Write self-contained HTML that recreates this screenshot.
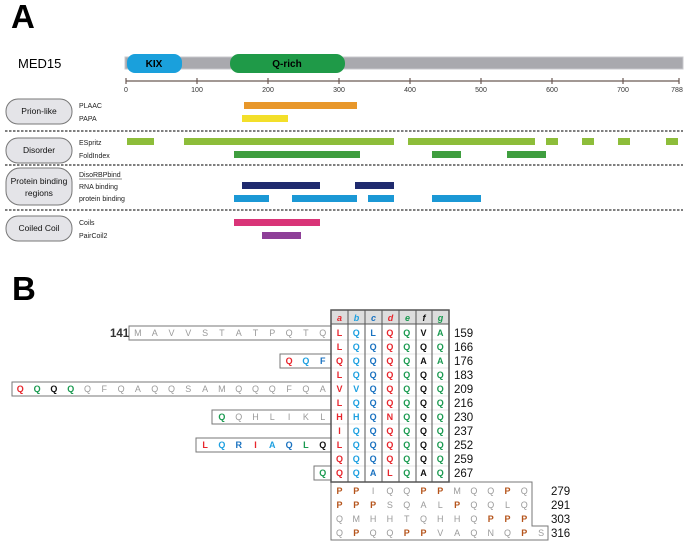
<!DOCTYPE html>
<html><head><meta charset="utf-8"><style>
html,body{margin:0;padding:0;background:#fff;}
svg{display:block;font-family:"Liberation Sans",Arial,sans-serif;}
</style></head><body>
<svg width="685" height="545" viewBox="0 0 685 545" xmlns="http://www.w3.org/2000/svg">
<text x="11" y="28" font-size="33" font-weight="bold">A</text>
<text x="12" y="300" font-size="33" font-weight="bold">B</text>
<text x="18" y="68" font-size="13">MED15</text>
<rect x="125" y="57" width="558" height="12" fill="#a9a9ae" stroke="#c8c8cc" stroke-width="1"/>
<rect x="127" y="54" width="55" height="19" rx="8" fill="#1aa0dc"/>
<text x="154" y="67" font-size="10" font-weight="bold" text-anchor="middle">KIX</text>
<rect x="230" y="54" width="115" height="19" rx="9" fill="#1f9a48"/>
<text x="287" y="67" font-size="10" font-weight="bold" text-anchor="middle">Q-rich</text>
<g stroke="#6b5a55" stroke-width="1.2">
<line x1="126" y1="81" x2="679" y2="81"/>
<line x1="126" y1="78" x2="126" y2="84"/><line x1="197" y1="78" x2="197" y2="84"/><line x1="268" y1="78" x2="268" y2="84"/><line x1="339" y1="78" x2="339" y2="84"/><line x1="410" y1="78" x2="410" y2="84"/><line x1="481" y1="78" x2="481" y2="84"/><line x1="552" y1="78" x2="552" y2="84"/><line x1="623" y1="78" x2="623" y2="84"/><line x1="679" y1="78" x2="679" y2="84"/>
</g>
<g font-size="7" fill="#333" text-anchor="middle">
<text x="126" y="92">0</text><text x="197" y="92">100</text><text x="268" y="92">200</text><text x="339" y="92">300</text><text x="410" y="92">400</text><text x="481" y="92">500</text><text x="552" y="92">600</text><text x="623" y="92">700</text><text x="677" y="92">788</text>
</g>
<g fill="#e4e4e8" stroke="#777" stroke-width="1">
<rect x="6" y="99" width="66" height="25" rx="12"/>
<rect x="6" y="138" width="66" height="25" rx="12"/>
<rect x="6" y="168" width="66" height="37" rx="14"/>
<rect x="6" y="216" width="66" height="25" rx="12"/>
</g>
<g font-size="8.5" fill="#111" text-anchor="middle">
<text x="39" y="114">Prion-like</text>
<text x="39" y="153">Disorder</text>
<text x="39" y="184">Protein binding</text>
<text x="39" y="196">regions</text>
<text x="39" y="231">Coiled Coil</text>
</g>
<g font-size="7" fill="#222">
<text x="79" y="108">PLAAC</text><text x="79" y="121">PAPA</text>
<text x="79" y="145">ESpritz</text><text x="79" y="158">FoldIndex</text>
<text x="79" y="177">DisoRBPbind</text><text x="79" y="189">RNA binding</text><text x="79" y="201">protein binding</text>
<text x="79" y="225">Coils</text><text x="79" y="238">PairCoil2</text>
</g>
<line x1="79" y1="179" x2="122" y2="179" stroke="#222" stroke-width="0.6"/>
<g stroke="#333" stroke-width="1.2" stroke-dasharray="2.5,1.5">
<line x1="5" y1="131" x2="683" y2="131"/>
<line x1="5" y1="165" x2="683" y2="165"/>
<line x1="5" y1="210" x2="683" y2="210"/>
</g>
<rect x="244" y="102" width="113" height="7" fill="#e8972a"/>
<rect x="242" y="115" width="46" height="7" fill="#f3df2a"/>
<g fill="#8dbd3a">
<rect x="127" y="138" width="27" height="7"/><rect x="184" y="138" width="210" height="7"/><rect x="408" y="138" width="127" height="7"/><rect x="546" y="138" width="12" height="7"/><rect x="582" y="138" width="12" height="7"/><rect x="618" y="138" width="12" height="7"/><rect x="666" y="138" width="12" height="7"/>
</g>
<g fill="#3f9e3f">
<rect x="234" y="151" width="126" height="7"/><rect x="432" y="151" width="29" height="7"/><rect x="507" y="151" width="39" height="7"/>
</g>
<g fill="#1f2a6e">
<rect x="242" y="182" width="78" height="7"/><rect x="355" y="182" width="39" height="7"/>
</g>
<g fill="#1b98d5">
<rect x="234" y="195" width="35" height="7"/><rect x="292" y="195" width="65" height="7"/><rect x="368" y="195" width="26" height="7"/><rect x="432" y="195" width="49" height="7"/>
</g>
<rect x="234" y="219" width="86" height="7" fill="#d93478"/>
<rect x="262" y="232" width="39" height="7" fill="#8e3f98"/>

<!-- Part B -->
<g fill="none" stroke="#777" stroke-width="1">
<rect x="129" y="326" width="202" height="14"/>
<rect x="280" y="354" width="51" height="14"/>
<rect x="12" y="382" width="319" height="14"/>
<rect x="212" y="410" width="119" height="14"/>
<rect x="196" y="438" width="135" height="14"/>
<rect x="314" y="466" width="17" height="14"/>
<path d="M331 482 H532 V526 H548 V540 H331 Z"/>
</g>
<rect x="331" y="310" width="118" height="14" fill="#ddd"/>
<g stroke="#ccc" stroke-width="0.6">
<line x1="331" y1="340" x2="449" y2="340"/><line x1="331" y1="354" x2="449" y2="354"/><line x1="331" y1="368" x2="449" y2="368"/><line x1="331" y1="382" x2="449" y2="382"/><line x1="331" y1="396" x2="449" y2="396"/><line x1="331" y1="410" x2="449" y2="410"/><line x1="331" y1="424" x2="449" y2="424"/><line x1="331" y1="438" x2="449" y2="438"/><line x1="331" y1="452" x2="449" y2="452"/><line x1="331" y1="466" x2="449" y2="466"/>
</g>
<g stroke="#555" stroke-width="1" fill="none">
<rect x="331" y="310" width="118" height="172" stroke-width="1.5"/>
<line x1="331" y1="324" x2="449" y2="324"/>
<line x1="348" y1="310" x2="348" y2="482"/><line x1="365" y1="310" x2="365" y2="482"/><line x1="382" y1="310" x2="382" y2="482"/><line x1="399" y1="310" x2="399" y2="482"/><line x1="416" y1="310" x2="416" y2="482"/><line x1="432" y1="310" x2="432" y2="482"/>
</g>
<g font-size="9" font-weight="bold" font-style="italic" text-anchor="middle">
<text x="339.5" y="321" fill="#e8262d">a</text><text x="356.5" y="321" fill="#1ea0e0">b</text><text x="373.5" y="321" fill="#1a72c0">c</text><text x="390.5" y="321" fill="#e8262d">d</text><text x="407.5" y="321" fill="#1a9a50">e</text><text x="424" y="321" fill="#111">f</text><text x="440.5" y="321" fill="#1a9a50">g</text>
</g>
<g font-size="9" font-weight="bold" text-anchor="middle">
<text x="339.5 339.5 339.5 339.5 339.5 339.5 339.5 339.5 339.5 339.5 339.5" y="336 350 364 378 392 406 420 434 448 462 476" fill="#e8262d">LLQLVLHILQQ</text>
<text x="356.3 356.3 356.3 356.3 356.3 356.3 356.3 356.3 356.3 356.3 356.3" y="336 350 364 378 392 406 420 434 448 462 476" fill="#1ea0e0">QQQQVQHQQQQ</text>
<text x="373.1 373.1 373.1 373.1 373.1 373.1 373.1 373.1 373.1 373.1 373.1" y="336 350 364 378 392 406 420 434 448 462 476" fill="#1a72c0">LQQQQQQQQQA</text>
<text x="389.9 389.9 389.9 389.9 389.9 389.9 389.9 389.9 389.9 389.9 389.9" y="336 350 364 378 392 406 420 434 448 462 476" fill="#e8262d">QQQQQQNQQQL</text>
<text x="406.7 406.7 406.7 406.7 406.7 406.7 406.7 406.7 406.7 406.7 406.7" y="336 350 364 378 392 406 420 434 448 462 476" fill="#1a9a50">QQQQQQQQQQQ</text>
<text x="423.5 423.5 423.5 423.5 423.5 423.5 423.5 423.5 423.5 423.5 423.5" y="336 350 364 378 392 406 420 434 448 462 476" fill="#111">VQAQQQQQQQA</text>
<text x="440.3 440.3 440.3 440.3 440.3 440.3 440.3 440.3 440.3 440.3 440.3" y="336 350 364 378 392 406 420 434 448 462 476" fill="#1a9a50">AQAQQQQQQQQ</text>
</g>
<g font-size="9" text-anchor="middle" fill="#9a9a9a">
<text x="137.9 154.7 171.5 188.3 205.1 221.9 238.7 255.5 272.3 289.1 305.9 322.7" y="336">MAVVSTATPQTQ</text>
<text x="87.5 104.3 121.1 137.9 154.7 171.5 188.3 205.1 221.9 238.7 255.5 272.3 289.1 305.9 322.7" y="392">QFQAQQSAMQQQFQA</text>
<text x="238.7 255.5 272.3 289.1 305.9 322.7" y="420">QHLIKL</text>
</g>
<g font-size="9" text-anchor="middle" font-weight="bold">
<text x="289.1" y="364" fill="#e8262d">Q</text><text x="305.9" y="364" fill="#1ea0e0">Q</text><text x="322.7" y="364" fill="#1a72c0">F</text>
<text x="20.3" y="392" fill="#e8262d">Q</text><text x="37.1" y="392" fill="#1a9a50">Q</text><text x="53.9" y="392" fill="#111">Q</text><text x="70.7" y="392" fill="#1a9a50">Q</text>
<text x="221.9" y="420" fill="#1a9a50">Q</text>
<text x="205.1" y="448" fill="#e8262d">L</text><text x="221.9" y="448" fill="#1ea0e0">Q</text><text x="238.7" y="448" fill="#1a72c0">R</text><text x="255.5" y="448" fill="#e8262d">I</text><text x="272.3" y="448" fill="#1ea0e0">A</text><text x="289.1" y="448" fill="#1a72c0">Q</text><text x="305.9" y="448" fill="#1a9a50">L</text><text x="322.7" y="448" fill="#111">Q</text>
<text x="322.7" y="476" fill="#1a9a50">Q</text>
</g>
<g font-size="9" text-anchor="middle" fill="#9a9a9a">
<text x="373.1 389.9 406.7 457.1 473.9 490.7 524.3" y="494">IQQMQQQ</text>
<text x="389.9 406.7 423.5 440.3 473.9 490.7 507.5 524.3" y="508">SQALQQLQ</text>
<text x="339.5 356.3 373.1 389.9 406.7 423.5 440.3 457.1 473.9" y="522">QMHHTQHHQ</text>
<text x="339.5 373.1 389.9 440.3 457.1 473.9 490.7 507.5 541.1" y="536">QQQVAQNQS</text>
</g>
<g font-size="9" text-anchor="middle" fill="#b5541b" font-weight="bold">
<text x="339.5 356.3 423.5 440.3 507.5" y="494">PPPPP</text>
<text x="339.5 356.3 373.1 457.1" y="508">PPPP</text>
<text x="490.7 507.5 524.3" y="522">PPP</text>
<text x="356.3 406.7 423.5 524.3" y="536">PPPP</text>
</g>
<g font-size="11.5" fill="#111">
<text x="454" y="337">159</text><text x="454" y="351">166</text><text x="454" y="365">176</text><text x="454" y="379">183</text><text x="454" y="393">209</text><text x="454" y="407">216</text><text x="454" y="421">230</text><text x="454" y="435">237</text><text x="454" y="449">252</text><text x="454" y="463">259</text><text x="454" y="477">267</text>
<text x="551" y="495">279</text><text x="551" y="509">291</text><text x="551" y="523">303</text><text x="551" y="537">316</text>
<text x="110" y="337" font-weight="bold" fill="#333">141</text>
</g>
</svg>
</body></html>
